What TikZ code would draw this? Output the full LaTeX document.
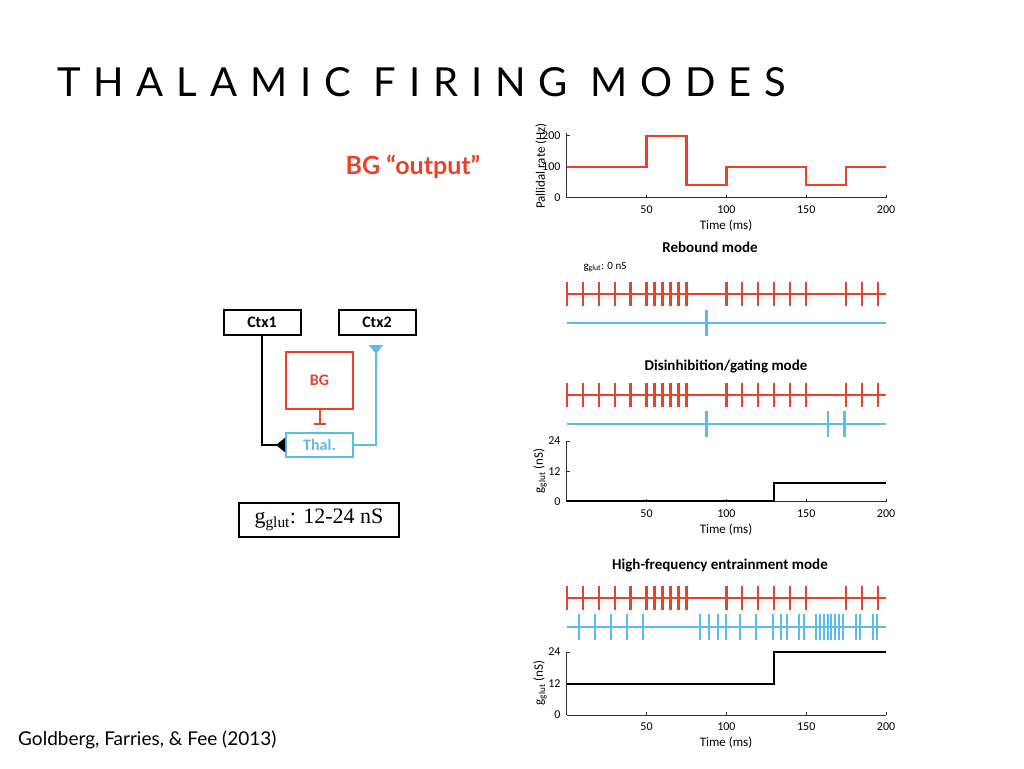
\documentclass[tikz,border=0pt]{standalone}
\usepackage{fontspec}
\setmainfont{Lato}
\newfontfamily\calfont{Carlito}
\newfontfamily\tmsfont{Liberation Serif}
\usetikzlibrary{arrows.meta}
\definecolor{rd}{HTML}{E8412C}
\definecolor{bl}{HTML}{5BBCEB}
\tikzset{
 box/.style={draw,line width=2pt,minimum width=#1,minimum height=25pt,inner sep=0pt,font=\calfont\bfseries\fontsize{16}{16}\selectfont},
 tick/.style={font=\calfont\fontsize{12}{12}\selectfont},
 ttl/.style={font=\calfont\bfseries\fontsize{15}{15}\selectfont},
 ax/.style={line width=1pt,black!80},
 syn/.style={-{Triangle[reversed,length=9pt,width=14pt]}},
}
\newcommand\tx[1]{566.7+#1*1.597}
\newcommand\xaxis[2]{% y, label y
 \draw[ax] (566.7,#1)--(886,#1);
 \foreach \t in {50,100,150,200}{\draw[ax] ({\tx{\t}},#1)--({\tx{\t}},#1-3);
  \node[tick] at ({\tx{\t}},#1+12) {\t};}
 \node[tick,font=\calfont\fontsize{13}{13}\selectfont] at (726,#2) {Time (ms)};}
\newcommand\redtrain[1]{%
 \draw[rd,line width=2.6pt] (566.7,#1)--(886,#1);
 \foreach \t in {0,10,20,30,40,50,55,60,65,70,75,100,110,120,130,140,150,175,185,195}
  \draw[rd,line width=2.2pt] ({\tx{\t}},#1-12)--({\tx{\t}},#1+12);}
\begin{document}
\begin{tikzpicture}[x=1pt,y=-1pt]
\useasboundingbox (0,0) rectangle (1024,768);
% title
\node[anchor=base west,inner sep=0pt,font=\fontsize{40}{40}\selectfont\addfontfeatures{LetterSpace=32}] (title) at (57,96) {THALAMIC FIRING MODES};
\node[text=rd,font=\bfseries\fontsize{25}{25}\selectfont] (bgout) at (413,167) {BG “output”};
\node[anchor=base west,inner sep=0pt,font=\fontsize{19}{19}\selectfont] (cite) at (18,745) {Goldberg, Farries, \& Fee (2013)};
% circuit
\node[box=77pt] (ctx1) at (262,322) {Ctx1};
\node[box=77pt] (ctx2) at (377,322) {Ctx2};
\node[box=67pt,minimum height=57pt,draw=rd,text=rd] (bg) at (319.5,380.5) {BG};
\node[box=67pt,minimum height=24pt,draw=bl,text=bl] (thal) at (319.5,445) {Thal.};
\draw[line width=2pt,syn] (ctx1.south) |- (thal.west);
\draw[bl,line width=2pt,syn] (thal.east) -| (376,345);
\draw[rd,line width=2pt,-{Bar[width=12pt]}] (bg.south) -- (319.5,425);
\node[draw,line width=1.2pt,minimum width=160pt,minimum height=34pt,font=\tmsfont\fontsize{22}{22}\selectfont] (gg) at (319,520) {g\textsubscript{glut}: 12-24 nS};
% top plot
\draw[ax] (566.7,197.7)--(566.7,133);
\foreach \v/\y in {0/197.7,100/166.7,200/135.7}{\draw[ax] (566.7,\y)--(569.7,\y); \node[tick,anchor=east] at (564,\y) {\v};}
\xaxis{197.7}{226}
\node[tick,rotate=90,font=\calfont\fontsize{13}{13}\selectfont] at (541,166) {Pallidal rate (Hz)};
\draw[rd,line width=2.2pt] ({\tx{0}},166.7)--({\tx{50}},166.7)--({\tx{50}},135.7)--({\tx{75}},135.7)--({\tx{75}},185.3)--({\tx{100}},185.3)--({\tx{100}},166.7)--({\tx{150}},166.7)--({\tx{150}},185.3)--({\tx{175}},185.3)--({\tx{175}},166.7)--({\tx{200}},166.7);
% rebound
\node[ttl] at (710,247) {Rebound mode};
\node[tick,font=\calfont\fontsize{11}{11}\selectfont,anchor=west] at (580,267) {g\textsubscript{glut}: 0 nS};
\redtrain{294}
\draw[bl,line width=2.6pt] (566.7,323)--(886,323);
\draw[bl,line width=2.4pt] ({\tx{87.5}},310)--({\tx{87.5}},336);
% disinhibition
\node[ttl] at (726,366) {Disinhibition/gating mode};
\redtrain{395}
\draw[bl,line width=2.6pt] (566.7,424)--(886,424);
\foreach \t in {87.5,163.5,174}\draw[bl,line width=2.4pt] ({\tx{\t}},411)--({\tx{\t}},437);
% gglut 1
\draw[ax] (566.7,501.7)--(566.7,441);
\foreach \v/\y in {0/501.7,12/471.3,24/441}{\draw[ax] (566.7,\y)--(569.7,\y); \node[tick,anchor=east] at (564,\y) {\v};}
\xaxis{501.7}{530}
\node[tick,rotate=90,font=\calfont\fontsize{13}{13}\selectfont] at (540,471) {g\textsubscript{glut} (nS)};
\draw[line width=2pt] (566.7,500.5)--({\tx{130}},500.5)--({\tx{130}},482.7)--(886,482.7);
% HF
\node[ttl] at (720,565) {High-frequency entrainment mode};
\redtrain{598}
\draw[bl,line width=2.6pt] (566.7,627)--(886,627);
\foreach \t in {7.7,18,28,38,48,83.7,89.4,94.6,99.8,108.8,118.8,129,134,137.9,145.6,148.8,156,158.3,160.8,163.3,165.8,168.3,170.8,173.3,181,183.8,191.5,194.2}
 \draw[bl,line width=2pt] ({\tx{\t}},614)--({\tx{\t}},640);
% gglut 2
\draw[ax] (566.7,715)--(566.7,652);
\foreach \v/\y in {0/715,12/683.5,24/652}{\draw[ax] (566.7,\y)--(569.7,\y); \node[tick,anchor=east] at (564,\y) {\v};}
\xaxis{715}{743}
\node[tick,rotate=90,font=\calfont\fontsize{13}{13}\selectfont] at (540,683) {g\textsubscript{glut} (nS)};
\draw[line width=2pt] (566.7,683.5)--({\tx{130}},683.5)--({\tx{130}},652)--(886,652);
\end{tikzpicture}
\end{document}
